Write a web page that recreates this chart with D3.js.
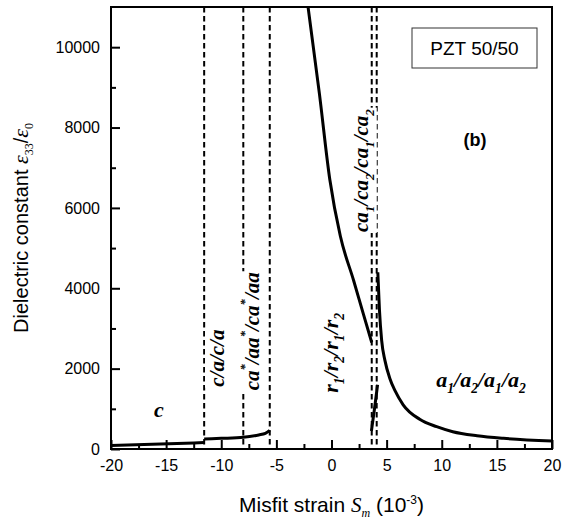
<!DOCTYPE html>
<html>
<head>
<meta charset="utf-8">
<script src="https://cdn.jsdelivr.net/npm/d3@7"></script>
<style>
  body { margin: 0; background: #fff; }
  svg { display: block; }
</style>
</head>
<body>
<div id="chart"></div>
<script>
// Phase curves (strain in 10^-3, eps33/eps0)
var cStrain = [-20, -17, -14, -11.55];
var cValue = [90, 110, 135, 160];

var caStrain = [-11.55, -10, -8, -6.6, -6, -5.6];
var caValue = [250, 265, 290, 350, 390, 460];

var rStrain = [-2.15, -1.1, -0.15, 0.8, 2.0, 2.9, 3.65];
var rValue = [11050, 8850, 6700, 5300, 4200, 3350, 2650];

var ca12Strain = [3.62, 3.9, 4.18];
var ca12Value = [450, 1000, 1600];

var aStrain = [4.2, 4.35, 4.55, 4.85, 5.3, 5.76, 6.5, 8, 9.54, 11, 13.2, 15.6, 20];
var aValue = [4400, 3460, 2700, 2200, 1750, 1450, 1100, 740, 555, 430, 330, 265, 200];

// Phase boundaries (dashed)
var boundaries = [-11.55, -8, -5.6, 3.65, 4.1];

var xTicks = [-20, -15, -10, -5, 0, 5, 10, 15, 20];
var xMinor = [-17.5, -12.5, -7.5, -2.5, 2.5, 7.5, 12.5, 17.5];
var yTicks = [0, 2000, 4000, 6000, 8000, 10000];
var yMinor = [1000, 3000, 5000, 7000, 9000];

var W = 562, H = 524;
var margin = {top: 7, right: 10, bottom: 75, left: 111};
var width = W - margin.left - margin.right,
    height = H - margin.top - margin.bottom;

var sans = "'Liberation Sans', Arial, sans-serif";
var serif = "'Liberation Serif', 'Times New Roman', serif";

var svg = d3.select("#chart").append("svg")
    .attr("width", W)
    .attr("height", H);

var g = svg.append("g")
    .attr("transform", "translate(" + margin.left + "," + margin.top + ")");

var x = d3.scaleLinear().domain([-20, 20]).range([0, width]);
var y = d3.scaleLinear().domain([0, 11000]).range([height, 0]);

g.append("clipPath").attr("id", "clip")
  .append("rect").attr("width", width).attr("height", height);

// dashed boundaries
g.selectAll(".bound")
  .data(boundaries)
  .enter().append("line")
    .attr("class", "bound")
    .attr("x1", function(d) { return x(d); })
    .attr("x2", function(d) { return x(d); })
    .attr("y1", 0)
    .attr("y2", height)
    .attr("stroke", "#000")
    .attr("stroke-width", 2)
    .attr("stroke-dasharray", "5.5,3.5");

// curves
var line = d3.line()
  .x(function(d) { return x(d[0]); })
  .y(function(d) { return y(d[1]); })
  .curve(d3.curveMonotoneX);

var curves = [
  d3.zip(cStrain, cValue),
  d3.zip(caStrain, caValue),
  d3.zip(rStrain, rValue),
  d3.zip(ca12Strain, ca12Value),
  d3.zip(aStrain, aValue)
];

g.append("g").attr("clip-path", "url(#clip)")
  .selectAll("path")
  .data(curves)
  .enter().append("path")
    .attr("d", line)
    .attr("fill", "none")
    .attr("stroke", "#000")
    .attr("stroke-width", 3);

// phase labels (white box hides the dashed lines behind them)
function phaseLabel(px, py, rotate, size, parts) {
  var lg = g.append("g")
    .attr("transform", "translate(" + px + "," + py + ")" + (rotate ? " rotate(-90)" : ""));
  var bg = lg.append("rect").attr("fill", "#fff");
  var t = lg.append("text")
    .style("font-family", serif)
    .style("font-weight", "bold")
    .style("font-style", "italic")
    .style("font-size", size + "px");
  parts.forEach(function(p) {
    var s = t.append("tspan").text(p.t);
    if (p.sub) s.style("font-size", (size * 0.62) + "px").attr("dy", size * 0.28);
    if (p.sup) s.style("font-size", (size * 0.6) + "px").attr("dy", -size * 0.45);
    if (p.back) s.attr("dy", p.back);
  });
  var bb = t.node().getBBox();
  bg.attr("x", bb.x - 1).attr("y", bb.y).attr("width", bb.width + 2).attr("height", bb.height);
}

phaseLabel(x(-16.1), y(800), false, 22, [{t: "c"}]);

phaseLabel(x(-9.75), y(1550), true, 21, [{t: "c/a/c/a"}]);

phaseLabel(x(-6.6), y(1460), true, 21, [
  {t: "ca"}, {t: "*", sup: true}, {t: "/aa", back: 21 * 0.45},
  {t: "*", sup: true}, {t: "/ca", back: 21 * 0.45},
  {t: "*", sup: true}, {t: "/aa", back: 21 * 0.45}
]);

phaseLabel(x(0.6), y(1400), true, 22, [
  {t: "r"}, {t: "1", sub: true}, {t: "/r", back: -22 * 0.28},
  {t: "2", sub: true}, {t: "/r", back: -22 * 0.28},
  {t: "1", sub: true}, {t: "/r", back: -22 * 0.28},
  {t: "2", sub: true}
]);

phaseLabel(x(3.3), y(5400), true, 21, [
  {t: "ca"}, {t: "1", sub: true}, {t: "/ca", back: -21 * 0.28},
  {t: "2", sub: true}, {t: "/ca", back: -21 * 0.28},
  {t: "1", sub: true}, {t: "/ca", back: -21 * 0.28},
  {t: "2", sub: true}
]);

phaseLabel(x(9.5), y(1550), false, 22, [
  {t: "a"}, {t: "1", sub: true}, {t: "/a", back: -22 * 0.28},
  {t: "2", sub: true}, {t: "/a", back: -22 * 0.28},
  {t: "1", sub: true}, {t: "/a", back: -22 * 0.28},
  {t: "2", sub: true}
]);

// axes (ticks pointing inward), drawn on top
var plain = function(d) { return String(d); };

var xAxis = g.append("g")
  .attr("transform", "translate(0," + height + ")")
  .call(d3.axisBottom(x).tickValues(xTicks).tickFormat(plain)
    .tickSizeInner(-9).tickSizeOuter(0).tickPadding(11));
xAxis.selectAll("text")
  .style("font-family", sans)
  .style("font-size", "16px")
  .attr("fill", "#000");

g.append("g")
  .attr("transform", "translate(0," + height + ")")
  .call(d3.axisBottom(x).tickValues(xMinor).tickSize(-5).tickFormat(""))
  .select(".domain").remove();

var yAxis = g.append("g")
  .call(d3.axisLeft(y).tickValues(yTicks).tickFormat(plain)
    .tickSizeInner(-9).tickSizeOuter(0).tickPadding(11));
yAxis.selectAll("text")
  .style("font-family", sans)
  .style("font-size", "16px")
  .attr("fill", "#000");

g.append("g")
  .call(d3.axisLeft(y).tickValues(yMinor).tickSize(-5).tickFormat(""))
  .select(".domain").remove();

g.selectAll(".tick line").attr("stroke", "#000").attr("stroke-width", 2);

// frame
g.append("rect")
  .attr("width", width)
  .attr("height", height)
  .attr("fill", "none")
  .attr("stroke", "#000")
  .attr("stroke-width", 2);

// PZT box and (b)
svg.append("rect")
  .attr("x", 412).attr("y", 28)
  .attr("width", 125).attr("height", 40)
  .attr("fill", "#fff")
  .attr("stroke", "#333")
  .attr("stroke-width", 1);
svg.append("text")
  .attr("x", 474.5).attr("y", 55)
  .attr("text-anchor", "middle")
  .style("font-family", sans)
  .style("font-size", "19px")
  .text("PZT 50/50");
svg.append("text")
  .attr("x", 475).attr("y", 146)
  .attr("text-anchor", "middle")
  .style("font-family", sans)
  .style("font-weight", "bold")
  .style("font-size", "18px")
  .text("(b)");

// axis titles
var xt = svg.append("text")
  .attr("x", margin.left + width / 2)
  .attr("y", 512)
  .attr("text-anchor", "middle")
  .style("font-family", sans)
  .style("font-size", "21px");
xt.append("tspan").text("Misfit strain ");
xt.append("tspan").text("S").style("font-family", serif).style("font-style", "italic");
xt.append("tspan").text("m").style("font-family", serif).style("font-style", "italic")
  .style("font-size", "12px").attr("dy", 5);
xt.append("tspan").text(" (10").attr("dy", -5);
xt.append("tspan").text("-3").style("font-size", "12px").attr("dy", -8);
xt.append("tspan").text(")").attr("dy", 8);

var yt = svg.append("text")
  .attr("transform", "translate(28," + (margin.top + height / 2) + ") rotate(-90)")
  .attr("text-anchor", "middle")
  .style("font-family", sans)
  .style("font-size", "20px");
yt.append("tspan").text("Dielectric constant ");
yt.append("tspan").text("ε").style("font-family", serif).style("font-style", "italic").style("font-size", "22px");
yt.append("tspan").text("33").style("font-family", serif).style("font-size", "12px").attr("dy", 5);
yt.append("tspan").text("/").attr("dy", -5);
yt.append("tspan").text("ε").style("font-family", serif).style("font-style", "italic").style("font-size", "22px");
yt.append("tspan").text("0").style("font-family", serif).style("font-size", "12px").attr("dy", 5);
</script>
</body>
</html>
